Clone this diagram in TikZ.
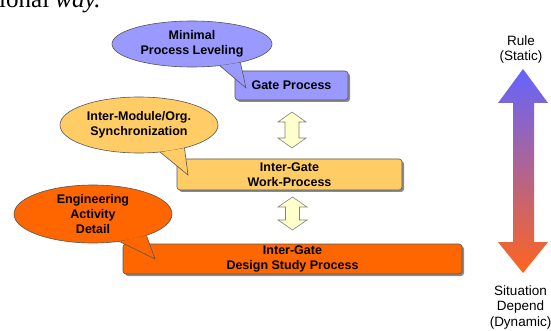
\documentclass[tikz,border=0pt]{standalone}
\usepackage{fontspec}
\setmainfont{Liberation Sans}
\newfontfamily\serifface{Liberation Serif}
\usetikzlibrary{shapes.geometric,shadows}

\definecolor{blueF}{RGB}{153,153,255}
\definecolor{ambF}{RGB}{255,204,102}
\definecolor{redF}{RGB}{255,102,0}
\definecolor{creamF}{RGB}{255,255,204}
\definecolor{edge}{RGB}{85,85,85}
\definecolor{arrowEdge}{RGB}{130,130,130}
\definecolor{gradTop}{RGB}{100,100,255}
\definecolor{gradMid}{RGB}{170,95,190}
\definecolor{gradBot}{RGB}{255,100,30}

\tikzset{
  lbl/.style={font=\fontsize{12.5}{15}\selectfont\bfseries, text=black, align=center, inner sep=0pt},
  procbox/.style={lbl, draw=edge, line width=0.6pt, rounded corners=3pt,
    drop shadow={shadow xshift=2pt, shadow yshift=-2pt, fill=black!45, opacity=1}},
  bubble/.style={lbl, ellipse, draw=edge, line width=0.6pt},
  tail/.style={draw=edge, line width=0.6pt, line join=miter},
  dblarrow/.style={draw=arrowEdge, line width=0.6pt, fill=creamF},
  sidelbl/.style={font=\fontsize{13.5}{15.5}\selectfont, text=black, align=center, inner sep=0pt}
}

\begin{document}
\begin{tikzpicture}[x=1pt, y=-1pt]
  \clip (0,0) rectangle (551,331);
  \fill[white] (0,0) rectangle (551,331);

  % tail of a sentence running off the top edge
  \node[anchor=base west, inner sep=0pt] (frag) at (-1,8)
    {\serifface\fontsize{25}{28}\selectfont ional \textit{way.}};

  % process boxes
  \node[procbox, fill=blueF, minimum width=113pt, minimum height=29pt] (gate) at (291.5,85.5) {Gate Process};
  \node[procbox, fill=ambF, minimum width=225pt, minimum height=31pt] (work) at (289.5,174.5) {Inter-Gate\\Work-Process};
  \node[procbox, fill=redF, minimum width=339pt, minimum height=30pt] (design) at (292.5,259) {Inter-Gate\\Design Study Process};

  % speech bubbles with their tails
  \node[bubble, fill=blueF, minimum width=160pt, minimum height=46pt] (b1) at (192,44) {Minimal\\Process Leveling};
  \coordinate (t1) at (246,88);
  \path[tail, fill=blueF] (b1.-38) -- (t1) -- (b1.-21);

  \node[bubble, fill=ambF, minimum width=158pt, minimum height=56pt] (b2) at (139,125) {Inter-Module/Org.\\Synchronization};
  \coordinate (t2) at (188,175);
  \path[tail, fill=ambF] (b2.-52) -- (t2) -- (b2.-27);

  \node[bubble, fill=redF, minimum width=158pt, minimum height=58pt] (b3) at (93,214) {Engineering\\Activity\\Detail};
  \coordinate (t3) at (155,259);
  \path[tail, fill=redF] (b3.-46) -- (t3) -- (b3.-22);

  % two-way arrows between the levels
  \draw[dblarrow] (292,112) -- (306,122) -- (299,122) -- (299,138) -- (306,138) -- (292,148)
    -- (278,138) -- (285,138) -- (285,122) -- (278,122) -- cycle;
  \draw[dblarrow] (292.5,197) -- (307,207) -- (299.5,207) -- (299.5,220) -- (307,220) -- (292.5,230)
    -- (278,220) -- (285.5,220) -- (285.5,207) -- (278,207) -- cycle;

  % rule / situation scale
  \path[top color=gradTop, middle color=gradMid, bottom color=gradBot]
    (523,69) -- (548,103) -- (534,103) -- (534,242) -- (548,242) -- (523,273)
    -- (498,242) -- (513,242) -- (513,103) -- (498,103) -- cycle;
  \node[sidelbl] (rule) at (521,49.5) {Rule\\(Static)};
  \node[sidelbl] (sit) at (520.5,307.5) {Situation\\Depend\\(Dynamic)};
\end{tikzpicture}
\end{document}
